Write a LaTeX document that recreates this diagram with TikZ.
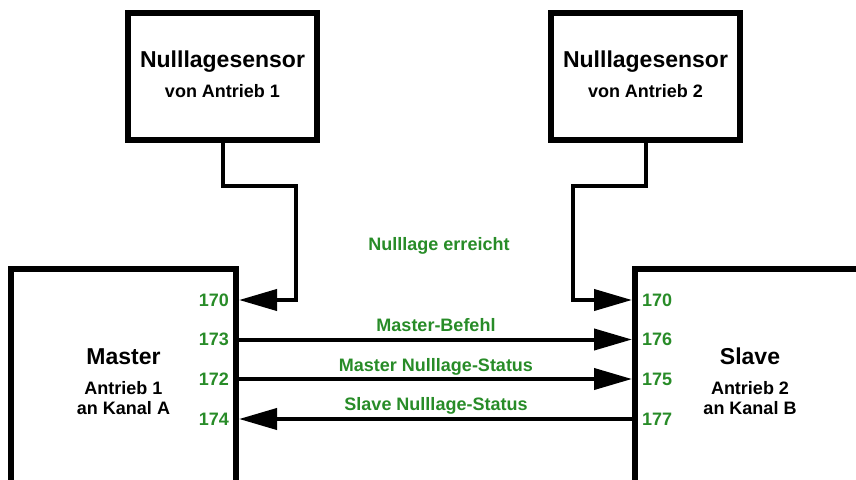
\documentclass[tikz,border=0pt]{standalone}
\usepackage{fontspec}
\setmainfont{Liberation Sans}
\usetikzlibrary{arrows.meta}
\definecolor{portgreen}{RGB}{40,140,40}
\tikzset{
  box/.style={draw=black, line width=6pt, fill=white, inner sep=0pt},
  conn/.style={draw=black, line width=4pt},
  tip/.style={-{Triangle[length=38pt,width=21pt]}},
  title/.style={font=\fontsize{23}{27}\selectfont\bfseries, anchor=base, inner sep=0pt},
  sub/.style={font=\fontsize{18}{21}\selectfont\bfseries, anchor=base, inner sep=0pt},
  port/.style={font=\fontsize{18}{21}\selectfont\bfseries, text=portgreen, inner sep=0pt},
  sig/.style={font=\fontsize{18}{21}\selectfont\bfseries, text=portgreen, anchor=base, inner sep=0pt}
}
\begin{document}
\begin{tikzpicture}[x=1pt,y=-1pt]
\useasboundingbox (0,0) rectangle (856,479);
\clip (0,0) rectangle (856,479);
\fill[white] (0,0) rectangle (856,479);
% boxes
\node[box, minimum width=189pt, minimum height=127pt] (s1) at (222.5,76.5) {};
\node[box, minimum width=189pt, minimum height=127pt] (s2) at (645.5,76.5) {};
\node[box, minimum width=225pt, minimum height=240pt, anchor=north west] (master) at (8,266) {};
\node[box, minimum width=240pt, minimum height=240pt, anchor=north west] (slave) at (632,266) {};
% texts
\node[title] (s1t) at (222.5,67) {Nulllagesensor};
\node[sub] (s1s) at (222.5,97) {von Antrieb 1};
\node[title] (s2t) at (645.5,67) {Nulllagesensor};
\node[sub] (s2s) at (645.5,97) {von Antrieb 2};
\node[title] (mt) at (123.5,364) {Master};
\node[sub] (ms1) at (123.5,394.3) {Antrieb 1};
\node[sub] (ms2) at (123.5,414.3) {an Kanal A};
\node[title] (st) at (750,364) {Slave};
\node[sub] (ss1) at (750,394.3) {Antrieb 2};
\node[sub] (ss2) at (750,414.3) {an Kanal B};
% ports
\node[port, anchor=east] (m170) at (229,300) {170};
\node[port, anchor=east] (m173) at (229,339.5) {173};
\node[port, anchor=east] (m172) at (229,379) {172};
\node[port, anchor=east] (m174) at (229,419) {174};
\node[port, anchor=west] (n170) at (642,300) {170};
\node[port, anchor=west] (n176) at (642,339.5) {176};
\node[port, anchor=west] (n175) at (642,379) {175};
\node[port, anchor=west] (n177) at (642,419) {177};
% signal labels
\node[sig] (l0) at (439,250) {Nulllage erreicht};
\node[sig] (l1) at (436,331) {Master-Befehl};
\node[sig] (l2) at (436,371) {Master Nulllage-Status};
\node[sig] (l3) at (436,410.7) {Slave Nulllage-Status};
% connectors
\coordinate (k1) at (296,186);
\coordinate (k2) at (573,186);
\draw[conn, tip] (s1.south) |- (k1) -- (k1 |- m170) -- (master.east |- m170);
\draw[conn, tip] (s2.south) |- (k2) -- (k2 |- n170) -- (slave.west |- n170);
\draw[conn, tip] (master.east |- m173) -- (slave.west |- n176);
\draw[conn, tip] (master.east |- m172) -- (slave.west |- n175);
\draw[conn, tip] (slave.west |- n177) -- (master.east |- m174);
\end{tikzpicture}
\end{document}
